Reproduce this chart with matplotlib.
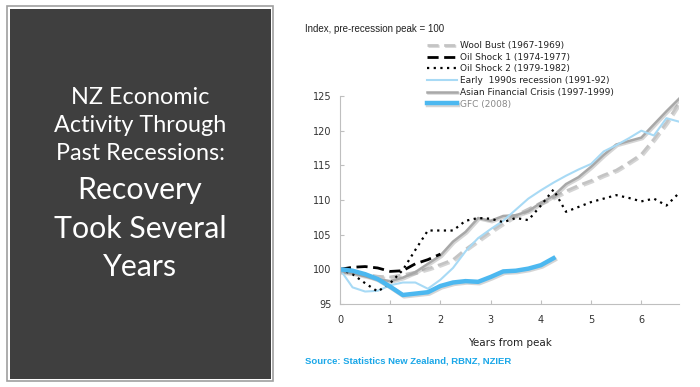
import matplotlib.pyplot as plt
import matplotlib.patheffects as pe
from matplotlib.patches import Rectangle

# quarterly index, pre-recession peak = 100
wool_bust = [100.0, 99.6, 99.3, 99.0, 98.9, 99.2, 99.6, 100.1, 100.7, 101.4,
             102.9, 104.2, 105.5, 106.7, 107.8, 108.7, 109.6, 110.4, 111.3,
             112.1, 112.8, 113.6, 114.3, 115.4, 116.6, 118.8, 121.2, 124.0]
oil_shock_1 = [100.0, 100.3, 100.4, 100.2, 99.7, 99.8, 100.8, 101.4, 102.2]
oil_shock_2 = [100.0, 99.3, 98.0, 96.8, 98.0, 99.9, 102.8, 105.6, 105.6, 105.6,
               107.0, 107.4, 107.3, 106.8, 107.4, 107.1, 109.2, 111.5, 108.3,
               109.0, 109.7, 110.2, 110.7, 110.3, 109.8, 110.2, 109.2, 111.0]
early_1990s = [100.0, 97.4, 96.8, 96.9, 97.7, 98.1, 98.1, 97.2, 98.5, 100.2,
               102.6, 104.5, 105.8, 107.0, 108.6, 110.2, 111.4, 112.5, 113.5,
               114.4, 115.2, 117.0, 117.9, 118.9, 120.0, 119.3, 121.8, 121.3]
asian_crisis = [99.6, 99.4, 99.0, 98.6, 98.3, 98.8, 99.6, 100.8, 102.0, 104.0,
                105.4, 107.4, 107.0, 107.7, 107.8, 108.4, 109.6, 110.6, 112.3,
                113.3, 114.8, 116.5, 118.0, 118.5, 119.0, 120.9, 122.8, 124.6]
gfc = [100.0, 99.8, 99.3, 98.6, 97.5, 96.3, 96.5, 96.7, 97.6, 98.1, 98.3,
       98.2, 98.9, 99.7, 99.8, 100.1, 100.6, 101.6]

labels = ["Wool Bust (1967-1969)", "Oil Shock 1 (1974-1977)",
          "Oil Shock 2 (1979-1982)", "Early  1990s recession (1991-92)",
          "Asian Financial Crisis (1997-1999)", "GFC (2008)"]
title_small = ["NZ Economic", "Activity Through", "Past Recessions:"]
title_big = ["Recovery", "Took Several", "Years"]


def years(vals):
    return [i * 0.25 for i in range(len(vals))]


W, H = 700, 387
fig = plt.figure(figsize=(7, 3.87), dpi=100)

# left dark panel
fig.patches.append(Rectangle((7 / W, 6 / H), 266 / W, 375 / H, transform=fig.transFigure,
                             facecolor="white", edgecolor="#a0a0a0", lw=1.2))
fig.patches.append(Rectangle((9.5 / W, 8.5 / H), 261 / W, 370 / H, transform=fig.transFigure,
                             facecolor="#3f3f3f", edgecolor="none"))
cx = 140 / W
for i, t in enumerate(title_small):
    fig.text(cx, 1 - (97 + 28 * i) / H, t, ha="center", va="center",
             color="white", fontsize=16.8, family="Lato")
for i, t in enumerate(title_big):
    fig.text(cx, 1 - (190 + 38.5 * i) / H, t, ha="center", va="center",
             color="white", fontsize=21.8, family="Lato")

ax = fig.add_axes([340 / W, 1 - 304 / H, 339 / W, 208 / H])

shadow = [pe.SimpleLineShadow(offset=(1, -1), shadow_color="#888888", alpha=0.35), pe.Normal()]

h1, = ax.plot(years(wool_bust), wool_bust, color="#c4c4c4", lw=2, ls=(0, (4, 2)), path_effects=shadow)
h5, = ax.plot(years(asian_crisis), asian_crisis, color="#a8a8a8", lw=1.8, path_effects=shadow)
h4, = ax.plot(years(early_1990s), early_1990s, color="#a8daf5", lw=1.5)
h2, = ax.plot(years(oil_shock_1), oil_shock_1, color="black", lw=2, ls=(0, (4, 2)))
h3, = ax.plot(years(oil_shock_2), oil_shock_2, color="black", lw=1.6, ls=(0, (1, 2.0)))
h6, = ax.plot(years(gfc), gfc, color="#4cb8f0", lw=3.2, path_effects=shadow)

ax.set_xlim(0, 6.75)
ax.set_ylim(95, 125)
ax.set_xticks(range(7))
ax.set_yticks(range(95, 126, 5))
for s in ["top", "right"]:
    ax.spines[s].set_visible(False)
for s in ["left", "bottom"]:
    ax.spines[s].set_color("#bfbfbf")
ax.tick_params(direction="in", length=3, color="#bfbfbf", labelsize=7,
               labelcolor="#333333", pad=6)
ax.tick_params(axis="x", pad=8)
ax.set_xlabel("Years from peak", fontsize=7.5, color="#222222", labelpad=9)

leg = fig.legend([h1, h2, h3, h4, h5, h6], labels, loc="upper left",
                 bbox_to_anchor=(427 / W, 1 - 41 / H), frameon=False,
                 fontsize=6.5, handlelength=3.3, handletextpad=0.35,
                 labelspacing=0.3, borderpad=0, borderaxespad=0)
for t in leg.get_texts():
    t.set_color("#222222")
leg.get_texts()[-1].set_color("#888888")

fig.text(305 / W, 1 - 29 / H, "Index, pre-recession peak = 100", fontsize=7,
         color="#222222", va="center", family="Liberation Sans")
fig.text(305 / W, 1 - 361 / H, "Source: Statistics New Zealand, RBNZ, NZIER",
         fontsize=6.8, color="#1aa7e8", fontweight="bold", va="center",
         family="Liberation Sans")

fig.savefig("out.png", dpi=100)
